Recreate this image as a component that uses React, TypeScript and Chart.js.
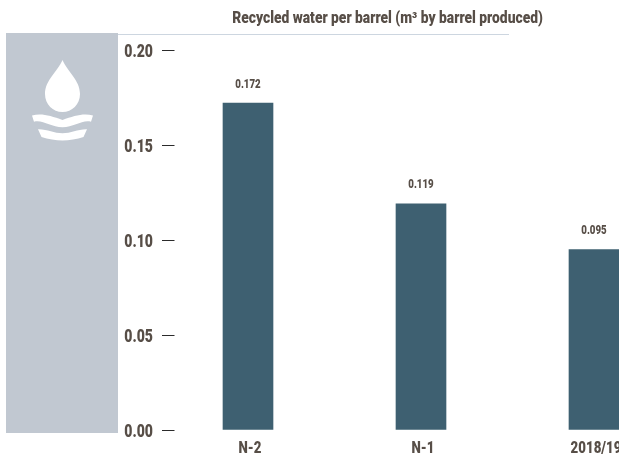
import { useEffect, useRef } from "react";
import { Chart, registerables } from "chart.js";

Chart.register(...registerables);

const periods = ["N-2", "N-1", "2018/19"];
const recycledWater = [0.172, 0.119, 0.095];
const valueLabels = ["0.172", "0.119", "0.095"];
const yTicks = ["0.00", "0.05", "0.10", "0.15", "0.20"];
const titleText = "Recycled water per barrel (m³ by barrel produced)";

const INK = "#574e47";
const BAR = "#3e6071";
const PANEL = "#c1c8d1";
const RULE = "#cdd6e0";
const FONT = 'Roboto, "Liberation Sans", sans-serif';

const AXIS_STRETCH = 0.78;
const VALUE_STRETCH = 0.72;
const TITLE_STRETCH = 0.864;

// No condensed face is available, so every text draw is squeezed horizontally around its anchor.
let stretch = AXIS_STRETCH;

const textPlugin = {
  id: "barText",
  beforeInit(chart: any) {
    const { ctx } = chart;
    const plainFillText = ctx.fillText.bind(ctx);
    ctx.fillText = (text: string, x: number, y: number) => {
      ctx.save();
      ctx.translate(x, y);
      ctx.scale(stretch, 1);
      plainFillText(text, 0, 0);
      ctx.restore();
    };
  },
  beforeDraw() {
    stretch = AXIS_STRETCH;
  },
  afterDatasetsDraw(chart: any) {
    const { ctx } = chart;
    ctx.save();
    ctx.fillStyle = INK;
    ctx.textAlign = "center";
    ctx.textBaseline = "middle";
    ctx.font = `900 13.5px ${FONT}`;
    stretch = VALUE_STRETCH;
    chart.getDatasetMeta(0).data.forEach((bar: any, i: number) => {
      ctx.fillText(valueLabels[i], bar.x, bar.y - 19);
    });
    ctx.font = `900 16px ${FONT}`;
    stretch = TITLE_STRETCH;
    ctx.fillText(titleText, 387.5, 19);
    ctx.restore();
    stretch = AXIS_STRETCH;
  },
};

export default function App() {
  const canvasRef = useRef<HTMLCanvasElement>(null);

  useEffect(() => {
    const chart = new Chart(canvasRef.current!, {
      type: "bar",
      data: {
        labels: periods,
        datasets: [
          {
            data: recycledWater,
            backgroundColor: BAR,
            barThickness: 50,
          },
        ],
      },
      options: {
        animation: false,
        responsive: false,
        layout: { padding: { top: 50, right: 19.5, left: 0, bottom: 0 } },
        plugins: { legend: { display: false }, tooltip: { enabled: false } },
        scales: {
          x: {
            afterFit: (scale: any) => {
              scale.height = 29;
            },
            grid: { display: false },
            border: { display: false },
            ticks: {
              color: INK,
              font: { family: FONT, weight: "900", size: 17 },
              padding: 1,
              maxRotation: 0,
              labelOffset: 2,
            },
          },
          y: {
            min: 0,
            max: 0.2,
            afterFit: (scale: any) => {
              scale.width = 161.5;
              scale.paddingBottom = 0;
            },
            border: { display: false },
            grid: {
              drawOnChartArea: false,
              tickLength: -13,
              tickColor: "#2b2b2b",
              tickWidth: 1,
            },
            ticks: {
              stepSize: 0.05,
              color: INK,
              font: { family: FONT, weight: "900", size: 18 },
              padding: 21.5,
              labelOffset: 2,
              callback: (_v: any, i: number) => yTicks[i],
            },
          },
        },
      },
      plugins: [textPlugin],
    } as any);
    return () => chart.destroy();
  }, []);

  return (
    <div
      style={{
        position: "absolute",
        left: 0,
        top: 0,
        width: 619,
        height: 459,
        overflow: "hidden",
        background: "#fff",
      }}
    >
      <div
        style={{
          position: "absolute",
          left: 6,
          top: 33,
          width: 112,
          height: 400,
          background: PANEL,
        }}
      >
        <svg width="112" height="110" viewBox="0 0 112 110" style={{ display: "block" }}>
          <path
            fill="#fff"
            d="M56.5 27 C52 38 39 47 39 61 C39 71.5 47 79 56.5 79 C66 79 74 71.5 74 61 C74 47 61 38 56.5 27 Z"
          />
          <path
            fill="#fff"
            d="M26 82.5 C36 80 45 83 56.5 87 C68 83 77 80 87 82.5 L85 88.7 C76 86.5 68 94.3 56.5 94.3 C45 94.3 37 86.5 28 88.7 Z"
          />
          <path
            fill="#fff"
            d="M32 96.3 C41 96 48 100.3 56.5 100.3 C65 100.3 72 96 81 96.3 L77.5 104 C71 106 63 107.5 56.5 107.5 C50 107.5 42 106 35.5 104 Z"
          />
        </svg>
      </div>
      <div
        style={{
          position: "absolute",
          left: 118,
          top: 34,
          width: 391,
          height: 1,
          background: RULE,
        }}
      />
      <canvas
        ref={canvasRef}
        width={700}
        height={459}
        style={{ position: "absolute", left: 0, top: 0 }}
      />
    </div>
  );
}
